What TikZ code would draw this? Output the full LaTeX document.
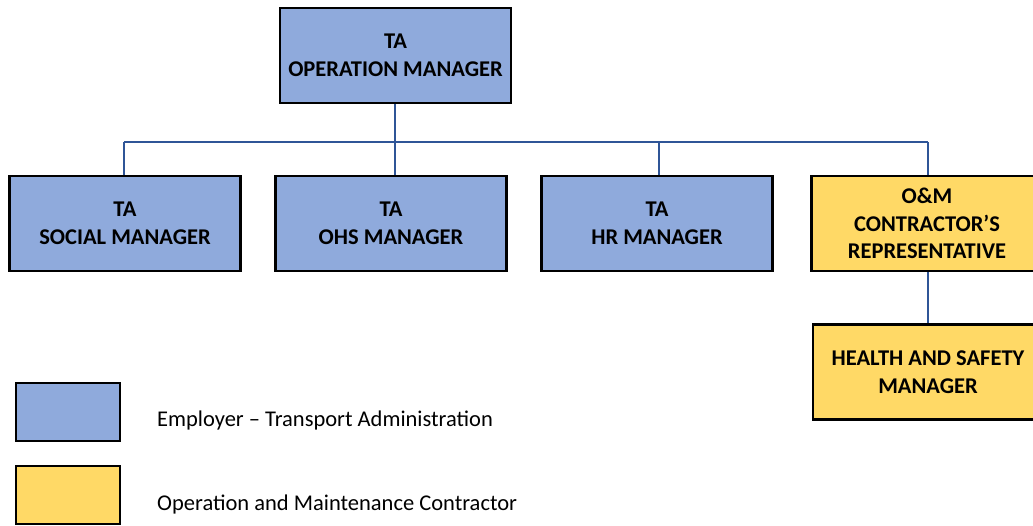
\documentclass[tikz,border=0pt]{standalone}
\usepackage{fontspec}
\setmainfont{Carlito}
\definecolor{tablue}{HTML}{8FAADC}
\definecolor{omyellow}{HTML}{FFD966}
\definecolor{linkblue}{HTML}{2F5597}
\tikzset{
  orgbox/.style={draw=black, line width=2.5pt, minimum width=231pt, minimum height=95pt, inner sep=0pt, align=center, font=\fontsize{22.5}{27.5}\selectfont\bfseries},
  tabox/.style={orgbox, fill=tablue},
  ombox/.style={orgbox, fill=omyellow},
  legbox/.style={draw=black, line width=2.5pt, minimum width=104pt, minimum height=58pt, inner sep=0pt},
  legtext/.style={anchor=west, font=\fontsize{22.5}{26}\selectfont, inner sep=0pt},
  link/.style={draw=linkblue, line width=1.3pt}
}
\begin{document}
\begin{tikzpicture}[x=1pt,y=-1pt]
\useasboundingbox (0,0) rectangle (1033,525);
\clip (0,0) rectangle (1033,525);
\node[tabox] (top) at (395.5,55.5) {TA\\OPERATION MANAGER};
\node[tabox] (social) at (125,223.5) {TA\\SOCIAL MANAGER};
\node[tabox] (ohs) at (391,223.5) {TA\\OHS MANAGER};
\node[tabox] (hr) at (657,223.5) {TA\\HR MANAGER};
\node[ombox] (om) at (927,223.5) {O\&M\\CONTRACTOR’S\\REPRESENTATIVE};
\node[ombox, minimum width=230pt] (hs) at (928,372) {HEALTH AND SAFETY\\MANAGER};
\node[legbox, fill=tablue] (legA) at (68,412) {};
\node[legbox, fill=omyellow] (legB) at (68,495) {};
\node[legtext] (legAt) at (157,420) {Employer – Transport Administration};
\node[legtext] (legBt) at (157,504) {Operation and Maintenance Contractor};
\coordinate (bus) at (395,142);
\draw[link] (top.south -| bus) -- (bus);
\draw[link] (bus -| 124,0) -- (bus -| 928,0);
\draw[link] (124,142) -- (social.north -| 124,0);
\draw[link] (bus) -- (ohs.north -| bus);
\draw[link] (659,142) -- (hr.north -| 659,0);
\draw[link] (928,142) -- (om.north -| 928,0);
\draw[link] (om.south -| 928,0) -- (hs.north);
\end{tikzpicture}
\end{document}
